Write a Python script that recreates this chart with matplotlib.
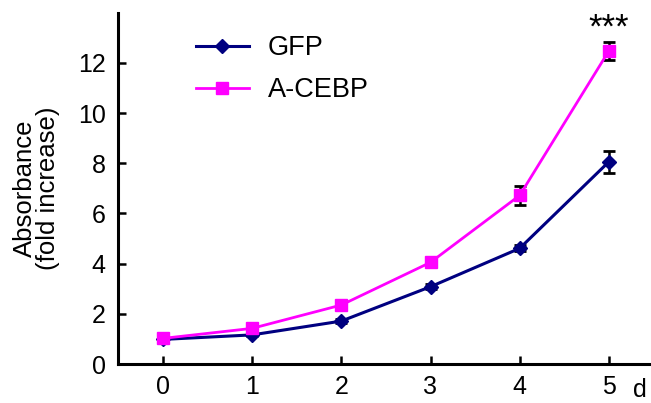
import matplotlib
matplotlib.use("Agg")
import matplotlib.pyplot as plt

plt.rcParams['font.family'] = ['Liberation Sans', 'DejaVu Sans']

days = [0, 1, 2, 3, 4, 5]
gfp = [0.98, 1.16, 1.71, 3.08, 4.61, 8.06]
gfp_err = [0.05, 0.06, 0.08, 0.10, 0.12, 0.43]
acebp = [1.02, 1.42, 2.35, 4.05, 6.72, 12.48]
acebp_err = [0.05, 0.07, 0.08, 0.12, 0.38, 0.35]
yticks = [0, 2, 4, 6, 8, 10, 12]
series_names = ["GFP", "A-CEBP"]

W, H = 651, 403
fig = plt.figure(figsize=(W / 100, H / 100), dpi=100)
ax = fig.add_axes([118.3 / W, 1 - 364 / H, 535.2 / W, (364 - 12.7) / H])

navy = '#000080'
mag = '#ff00ff'

ax.errorbar(days, gfp, yerr=gfp_err, fmt='none', ecolor='black', elinewidth=1.8,
            capsize=4.5, capthick=2.0, zorder=2)
ax.errorbar(days, acebp, yerr=acebp_err, fmt='none', ecolor='black', elinewidth=1.8,
            capsize=4.5, capthick=2.0, zorder=2)
ax.plot(days, gfp, color=navy, marker='D', markersize=7.2, lw=2.2, label=series_names[0], zorder=3)
ax.plot(days, acebp, color=mag, marker='s', markersize=9, lw=2.0, label=series_names[1], zorder=4)

ax.set_xlim(-0.5, 5.5)
ax.set_ylim(0, 14)
ax.set_xticks(days)
ax.set_yticks(yticks)
for s in ['top', 'right']:
    ax.spines[s].set_visible(False)
for s in ['left', 'bottom']:
    ax.spines[s].set_linewidth(2.2)
ax.tick_params(axis='both', direction='in', length=6, width=1.8, labelsize=18)
ax.tick_params(axis='y', pad=9)
ax.tick_params(axis='x', pad=8)

ax.set_ylabel("Absorbance\n(fold increase)", fontsize=18.5, linespacing=0.92, labelpad=13)

ax.text(5, 13.4, "***", ha='center', va='center', fontsize=25)
fig.text(640 / W, 1 - 390 / H, "d", ha='center', va='center', fontsize=18)

leg = ax.legend(loc='upper left', bbox_to_anchor=(196 / W, 1 - 35 / H),
                bbox_transform=fig.transFigure, frameon=False, fontsize=19.5,
                handlelength=1.95, handletextpad=0.7, labelspacing=0.6,
                borderpad=0, borderaxespad=0)

fig.savefig("out.png", dpi=100)
